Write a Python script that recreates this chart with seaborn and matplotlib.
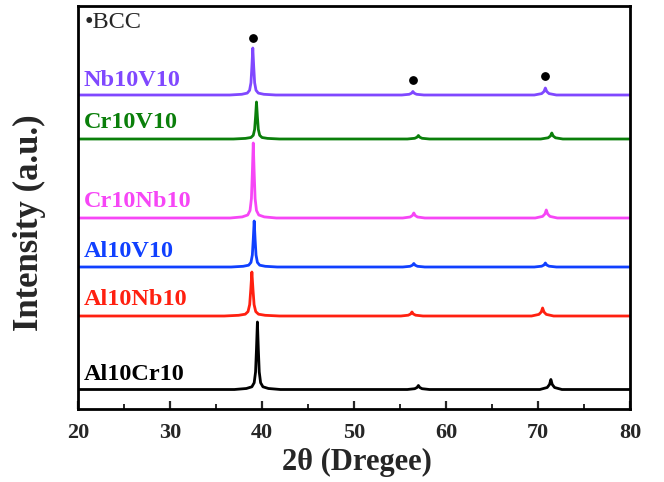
import matplotlib
matplotlib.use("Agg")
import matplotlib.pyplot as plt
import numpy as np
import pandas as pd
import seaborn as sns
from matplotlib.ticker import MultipleLocator

# ---- data (intensity in arbitrary units) ----
names = ["Al10Cr10", "Al10Nb10", "Al10V10", "Cr10Nb10", "Cr10V10", "Nb10V10"]
colors = ["#000000", "#FF2010", "#1040FF", "#F646F6", "#0A7F0A", "#8048FF"]

x_al10cr10 = [20, 37.0, 38.3, 38.9, 39.15, 39.3, 39.4, 39.5, 39.6, 39.7, 39.85, 40.1, 40.7, 42.0,
              55.8, 56.6, 56.85, 57.0, 57.15, 57.4, 58.2,
              70.2, 71.0, 71.25, 71.4, 71.55, 71.8, 72.6, 80]
y_al10cr10 = [19.5, 19.5, 20.5, 22.2, 26.25, 37.05, 60, 87, 60, 37.05, 26.25, 22.2, 20.5, 19.5,
              19.5, 20.3, 21.5, 23.5, 21.5, 20.3, 19.5,
              19.5, 21.5, 24.5, 29.5, 24.5, 21.5, 19.5, 19.5]

x_al10nb10 = [20, 35.9, 37.46, 38.18, 38.48, 38.66, 38.78, 38.9, 39.02, 39.14, 39.32, 39.62, 40.34, 41.9,
              55.1, 55.9, 56.15, 56.3, 56.45, 56.7, 57.5,
              69.3, 70.1, 70.35, 70.5, 70.65, 70.9, 71.7, 80]
y_al10nb10 = [93, 93, 93.7, 94.8, 97.4, 104.4, 119.4, 137, 119.4, 104.4, 97.4, 94.8, 93.7, 93,
              93, 93.8, 95, 97, 95, 93.8, 93,
              93, 94.6, 97, 101, 97, 94.6, 93, 93]

x_al10v10 = [20, 36.65, 37.95, 38.55, 38.8, 38.95, 39.05, 39.15, 39.25, 39.35, 39.5, 39.75, 40.35, 41.65,
             55.3, 56.1, 56.35, 56.5, 56.65, 56.9, 57.7,
             69.6, 70.4, 70.65, 70.8, 70.95, 71.2, 72.0, 80]
y_al10v10 = [142, 142, 142.7, 143.8, 146.6, 154, 169.6, 188, 169.6, 154, 146.6, 143.8, 142.7, 142,
             142, 142.7, 143.8, 145.5, 143.8, 142.7, 142,
             142, 142.8, 144, 146, 144, 142.8, 142, 142]

x_cr10nb10 = [20, 36.55, 37.85, 38.45, 38.7, 38.85, 38.95, 39.05, 39.15, 39.25, 39.4, 39.65, 40.25, 41.55,
              55.3, 56.1, 56.35, 56.5, 56.65, 56.9, 57.7,
              69.7, 70.5, 70.75, 70.9, 71.05, 71.3, 72.1, 80]
y_cr10nb10 = [191, 191, 192.1, 194, 198.5, 210.5, 236, 266, 236, 210.5, 198.5, 194, 192.1, 191,
              191, 192, 193.5, 196, 193.5, 192, 191,
              191, 192.6, 195, 199, 195, 192.6, 191, 191]

x_cr10v10 = [20, 36.9, 38.2, 38.8, 39.05, 39.2, 39.3, 39.4, 39.5, 39.6, 39.75, 40.0, 40.6, 41.9,
             55.8, 56.6, 56.85, 57.0, 57.15, 57.4, 58.2,
             70.3, 71.1, 71.35, 71.5, 71.65, 71.9, 72.7, 80]
y_cr10v10 = [270, 270, 270.6, 271.5, 273.7, 279.6, 292.2, 307, 292.2, 279.6, 273.7, 271.5, 270.6, 270,
             270, 270.7, 271.8, 273.5, 271.8, 270.7, 270,
             270, 271.2, 273, 276, 273, 271.2, 270, 270]

x_nb10v10 = [20, 36.5, 37.8, 38.4, 38.65, 38.8, 38.9, 39.0, 39.1, 39.2, 39.35, 39.6, 40.2, 41.5,
             55.2, 56.0, 56.25, 56.4, 56.55, 56.8, 57.6,
             69.6, 70.4, 70.65, 70.8, 70.95, 71.2, 72.0, 80]
y_nb10v10 = [314, 314, 314.7, 315.9, 318.7, 326.2, 342.2, 361, 342.2, 326.2, 318.7, 315.9, 314.7, 314,
             314, 314.7, 315.8, 317.5, 315.8, 314.7, 314,
             314, 315.4, 317.5, 321, 317.5, 315.4, 314, 314]

label_y = [29, 104, 152, 202, 281, 323]   # label baselines

bcc_x = [39.0, 56.4, 70.8]
bcc_y = [371, 329, 333]

xs = [x_al10cr10, x_al10nb10, x_al10v10, x_cr10nb10, x_cr10v10, x_nb10v10]
ys = [y_al10cr10, y_al10nb10, y_al10v10, y_cr10nb10, y_cr10v10, y_nb10v10]

df = pd.concat([pd.DataFrame({"two_theta": x, "intensity": y, "alloy": n})
                for x, y, n in zip(xs, ys, names)], ignore_index=True)

# ---- style ----
sns.set_style("ticks")
plt.rcParams["font.family"] = ["Liberation Serif", "DejaVu Serif"]

fig = plt.figure(figsize=(6.64, 4.82), dpi=100)
ax = fig.add_axes([78 / 664, 1 - 409 / 482, 552 / 664, 403 / 482])

sns.lineplot(data=df, x="two_theta", y="intensity", hue="alloy",
             hue_order=names, palette=dict(zip(names, colors)),
             estimator=None, sort=False, linewidth=2.0, legend=False, ax=ax)

ax.scatter(bcc_x, bcc_y, s=28, color="black", zorder=5)
ax.text(20.75, 386, "\u2022BCC", fontsize=17.5, va="center", ha="left")

for n, c, yl in zip(names, colors, label_y):
    ax.text(20.6, yl, n, color=c, fontsize=17.5, fontweight="bold",
            va="baseline", ha="left")

ax.set_xlim(20, 80)
ax.set_ylim(0, 403)
ax.xaxis.set_major_locator(MultipleLocator(10))
ax.xaxis.set_minor_locator(MultipleLocator(5))
ax.set_yticks([])
ax.tick_params(axis="x", which="major", direction="in", length=6, width=1.6,
               labelsize=16, pad=10, top=False)
ax.tick_params(axis="x", which="minor", direction="in", length=3.5, width=1.4,
               top=False)
for lab in ax.get_xticklabels():
    lab.set_fontweight("bold")
for sp in ax.spines.values():
    sp.set_visible(True)
    sp.set_linewidth(2)
    sp.set_color("black")

ax.set_xlabel("2\u03b8 (Dregee)", fontsize=22, fontweight="bold", va="center")
ax.xaxis.set_label_coords((357 - 78) / 552, (409 - 462) / 403)
ax.set_ylabel("Intensity (a.u.)", fontsize=25, fontweight="bold", va="center")
ax.yaxis.set_label_coords((29 - 78) / 552, (409 - 223) / 403)

fig.savefig("out.png", dpi=100)
